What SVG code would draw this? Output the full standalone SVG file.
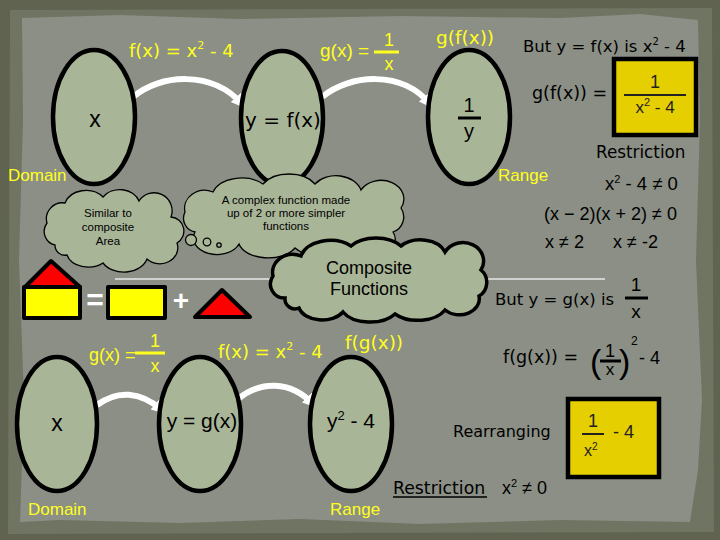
<svg xmlns="http://www.w3.org/2000/svg" width="720" height="540" viewBox="0 0 720 540">
<style>
text{font-family:"Liberation Sans","DejaVu Sans",sans-serif}
text.dv{font-family:"DejaVu Sans","Liberation Sans",sans-serif}
.yl{fill:#ffff1e}
.bk{fill:#000}
.node ellipse{fill:#a9b597;stroke:#000;stroke-width:4.5}
.cloud{fill:#a9b597;stroke:#000;stroke-width:1.3}
.arrow{fill:none;stroke:#fff;stroke-width:6;marker-end:url(#ah)}
.fb{stroke:#000;stroke-width:3}
.fy{stroke:#ffff1e;stroke-width:3}
.box{fill:#e6cf00;stroke:#000;stroke-width:4.5}
.shape{stroke:#000;stroke-width:4;stroke-linejoin:round}
.m{text-anchor:middle}
</style>
<defs>
<marker id="ah" markerUnits="userSpaceOnUse" markerWidth="20" markerHeight="20" refX="9" refY="7" orient="auto">
<path d="M0,0 L15,7 L0,14 Z" fill="#fff"/>
</marker>
</defs>
<!-- background -->
<rect x="0" y="0" width="720" height="540" fill="#5f634f"/>
<path d="M10,10 L712,8 L714,532 L8,534 Z" fill="#707462"/>
<path d="M22,18 L120,15 L240,19 L400,16 L560,18 L640,14 L698,20 L700,120 L696,260 L702,400 L698,470 L690,522 L560,520 L420,524 L300,519 L180,523 L60,520 L20,522 L24,400 L19,260 L23,120 Z" fill="#8b8f85"/>

<!-- connectors -->
<g id="connectors">
<path class="arrow" d="M133,97 C160,74 212,70 242,104"/>
<path class="arrow" d="M322,97 C350,74 402,70 430,104"/>
<path class="arrow" d="M97,405 C117,390 140,391 162,410"/>
<path class="arrow" d="M238,399 C260,381 290,380 313,404"/>
<line x1="115" y1="279" x2="605" y2="279" stroke="#e8e8e8" stroke-width="1.5"/>
</g>

<!-- top row nodes -->
<g id="domain1" class="node">
<ellipse cx="94" cy="117" rx="41" ry="67"/>
<text class="bk m" x="95" y="127" font-size="23">x</text>
</g>
<g id="mid1" class="node">
<ellipse cx="282" cy="118" rx="41" ry="67"/>
<text class="bk m dv" x="283" y="127" font-size="20">y = f(x)</text>
</g>
<g id="range1" class="node">
<ellipse cx="469" cy="117" rx="41" ry="67"/>
<text class="bk m" x="469" y="112" font-size="20">1</text>
<line class="fb" x1="458" y1="118" x2="481" y2="118"/>
<text class="bk m" x="469" y="138" font-size="20">y</text>
</g>

<!-- top labels -->
<g id="labels-top">
<text class="yl dv" x="129" y="57" font-size="18">f(x) = x<tspan dy="-8" font-size="11">2</tspan><tspan dy="8"> - 4</tspan></text>
<text class="yl" x="320" y="57" font-size="19">g(x) =</text>
<text class="yl m" x="389" y="46" font-size="18">1</text>
<line class="fy" x1="374" y1="52" x2="399" y2="52"/>
<text class="yl m" x="389" y="70" font-size="18">x</text>
<text class="yl dv" x="436" y="44" font-size="18.5">g(f(x))</text>
<text class="yl" x="8" y="181" font-size="17">Domain</text>
<text class="yl" x="498" y="181" font-size="17">Range</text>
</g>

<!-- top right working -->
<g id="work-top">
<text class="bk dv" x="523" y="52" font-size="16.5">But y = f(x) is x<tspan dy="-7" font-size="10">2</tspan><tspan dy="7"> - 4</tspan></text>
<text class="bk dv" x="532" y="99" font-size="17.5">g(f(x)) =</text>
<rect class="box" x="614" y="59" width="82" height="76"/>
<text class="m" x="655" y="88" font-size="18" fill="#222">1</text>
<line x1="624" y1="95" x2="686" y2="95" stroke="#222" stroke-width="2"/>
<text class="m" x="655" y="113" font-size="17" fill="#222">x<tspan dy="-7" font-size="11">2</tspan><tspan dy="7"> - 4</tspan></text>
<text class="bk dv" x="596" y="158" font-size="16.8">Restriction</text>
<text class="bk" x="605" y="190" font-size="18.5">x<tspan dy="-7" font-size="11">2</tspan><tspan dy="7"> - 4 ≠ 0</tspan></text>
<text class="bk" x="544" y="220" font-size="18">(x − 2)(x + 2) ≠ 0</text>
<text class="bk" x="545" y="248" font-size="18">x  ≠ 2</text>
<text class="bk" x="613" y="248" font-size="18">x ≠ -2</text>
</g>

<!-- clouds -->
<g id="cloud-similar">
<path class="cloud" d="M55,245 a14,14 0 0 1 -8,-22 a16,16 0 0 1 18,-20 a22,18 0 0 1 38,-6 a20,16 0 0 1 36,4 a18,18 0 0 1 32,16 a14,14 0 0 1 6,26 a18,16 0 0 1 -30,16 a24,18 0 0 1 -44,4 a22,16 0 0 1 -36,-8 a10,10 0 0 1 -12,-10 Z"/>
<text class="bk m" x="108" y="217" font-size="11.5">Similar to</text>
<text class="bk m" x="108" y="231" font-size="11.5">composite</text>
<text class="bk m" x="108" y="245" font-size="11.5">Area</text>
</g>
<g id="cloud-definition">
<path class="cloud" d="M195,232 a14,14 0 0 1 -10,-20 a20,18 0 0 1 28,-20 a30,20 0 0 1 50,-8 a30,20 0 0 1 52,0 a26,20 0 0 1 46,6 a22,18 0 0 1 40,18 a16,16 0 0 1 -8,24 a22,16 0 0 1 -40,14 a34,20 0 0 1 -58,2 a30,18 0 0 1 -56,-4 a20,14 0 0 1 -44,-12 Z"/>
<circle class="cloud" cx="191" cy="240" r="5.5"/>
<circle class="cloud" cx="207" cy="242" r="3.8"/>
<circle class="cloud" cx="219" cy="245" r="2.2"/>
<text class="bk m" x="286" y="204" font-size="11.5">A complex function made</text>
<text class="bk m" x="286" y="217" font-size="11.5">up of 2 or more simpler</text>
<text class="bk m" x="286" y="230" font-size="11.5">functions</text>
</g>
<g id="cloud-title">
<circle class="cloud" cx="357" cy="248" r="5"/>
<circle class="cloud" cx="365" cy="253" r="3.2"/>
<circle class="cloud" cx="373" cy="256" r="2"/>
<path d="M285,298 a14,14 0 0 1 -12,-22 a20,18 0 0 1 28,-20 a30,20 0 0 1 50,-10 a30,18 0 0 1 50,0 a26,18 0 0 1 44,6 a20,18 0 0 1 36,18 a16,16 0 0 1 -2,26 a20,16 0 0 1 -34,14 a30,18 0 0 1 -50,4 a30,18 0 0 1 -52,-2 a24,16 0 0 1 -44,-4 a10,10 0 0 1 -14,-10 Z" fill="#a9b597" stroke="#000" stroke-width="3.5"/>
<text class="bk m" x="369" y="274" font-size="18">Composite</text>
<text class="bk m" x="369" y="295" font-size="18">Functions</text>
</g>

<!-- area analogy -->
<g id="area-analogy">
<polygon class="shape" points="51,261 25,287 80,287" fill="#ff0000"/>
<rect class="shape" x="24" y="287" width="56" height="31" fill="#ffff00"/>
<text x="95" y="310" font-size="30" font-weight="bold" fill="#fff" class="m">=</text>
<rect class="shape" x="108" y="287" width="57" height="31" fill="#ffff00"/>
<text x="181" y="310" font-size="28" font-weight="bold" fill="#fff" class="m">+</text>
<polygon class="shape" points="222,290 195,317 250,317" fill="#ff0000"/>
</g>

<!-- bottom row nodes -->
<g id="domain2" class="node">
<ellipse cx="57" cy="424" rx="40" ry="67"/>
<text class="bk m" x="57" y="431" font-size="23">x</text>
</g>
<g id="mid2" class="node">
<ellipse cx="200" cy="424" rx="41" ry="67"/>
<text class="bk m" x="202" y="428" font-size="21">y = g(x)</text>
</g>
<g id="range2" class="node">
<ellipse cx="351" cy="424" rx="41" ry="67"/>
<text class="bk m" x="351" y="428" font-size="21">y<tspan dy="-8" font-size="13">2</tspan><tspan dy="8"> - 4</tspan></text>
</g>

<!-- bottom labels -->
<g id="labels-bottom">
<text class="yl" x="89" y="361" font-size="18">g(x) =</text>
<text class="yl m" x="155" y="347" font-size="18">1</text>
<line class="fy" x1="135" y1="353" x2="165" y2="353"/>
<text class="yl m" x="155" y="372" font-size="18">x</text>
<text class="yl dv" x="218" y="358" font-size="18">f(x) = x<tspan dy="-8" font-size="11">2</tspan><tspan dy="8"> - 4</tspan></text>
<text class="yl dv" x="345" y="349" font-size="18.5">f(g(x))</text>
<text class="yl" x="28" y="515" font-size="17">Domain</text>
<text class="yl" x="330" y="515" font-size="17">Range</text>
</g>

<!-- bottom right working -->
<g id="work-bottom">
<text class="bk dv" x="495" y="305" font-size="16.5">But y = g(x) is</text>
<text class="bk m" x="636" y="291" font-size="19">1</text>
<line class="fb" x1="625" y1="298" x2="648" y2="298"/>
<text class="bk m" x="636" y="318" font-size="19">x</text>
<text class="bk dv" x="503" y="363" font-size="17.5">f(g(x)) =</text>
<text class="bk" x="590" y="373" font-size="34">(</text>
<text class="bk m" x="610" y="357" font-size="18">1</text>
<line class="fb" x1="600" y1="361" x2="621" y2="361"/>
<text class="bk m" x="610" y="375" font-size="17">x</text>
<text class="bk" x="619" y="373" font-size="34">)</text>
<text class="bk" x="631" y="345" font-size="12">2</text>
<text class="bk" x="639" y="364" font-size="18">- 4</text>
<text class="bk dv" x="453" y="437" font-size="16">Rearranging</text>
<rect class="box" x="568" y="399" width="91" height="78"/>
<text class="m" x="593" y="427" font-size="18" fill="#222">1</text>
<line x1="582" y1="434" x2="604" y2="434" stroke="#222" stroke-width="2"/>
<text x="584" y="456" font-size="16" fill="#222">x<tspan dy="-6" font-size="10">2</tspan></text>
<text x="613" y="438" font-size="18" fill="#222">- 4</text>
<text class="bk dv" x="393" y="494" font-size="17.3">Restriction</text>
<line x1="393" y1="497" x2="487" y2="497" stroke="#000" stroke-width="1.5"/>
<text class="bk" x="502" y="494" font-size="18">x<tspan dy="-7" font-size="11">2</tspan><tspan dy="7"> ≠ 0</tspan></text>
</g>
</svg>
